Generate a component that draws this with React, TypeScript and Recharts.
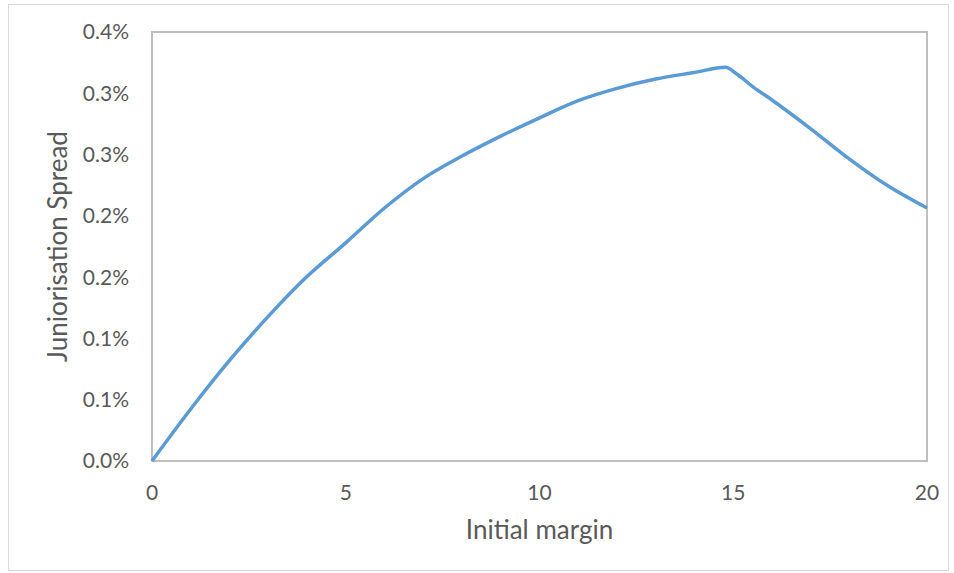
import { LineChart, Line, XAxis, YAxis, ReferenceArea } from "recharts";

// Initial margin (x) and junioring spread in % (y)
const margins = [0, 1, 2, 3, 4, 5, 6, 7, 8, 9, 10, 11, 12, 13, 14, 14.8, 15.1, 15.5, 16, 17, 18, 19, 20];
const spreads = [
  0, 0.0424, 0.082, 0.118, 0.1505, 0.178, 0.2064, 0.2304, 0.2488, 0.265, 0.28, 0.294, 0.304,
  0.3116, 0.317, 0.3212, 0.3155, 0.3055, 0.2945, 0.271, 0.2463, 0.2243, 0.2064,
];

const xTicks = [0, 5, 10, 15, 20];
const yTicks = [0, 0.05, 0.1, 0.15, 0.2, 0.25, 0.3, 0.35];
const yTickLabels = ["0.0%", "0.1%", "0.1%", "0.2%", "0.2%", "0.3%", "0.3%", "0.4%"];

const data = margins.map((m, i) => ({ margin: m, spread: spreads[i] }));

const FONT = "Lato, 'Noto Sans', sans-serif";
const TEXT = "#595959";

export default function App() {
  return (
    <div
      style={{
        position: "absolute",
        left: 0,
        top: 0,
        width: 954,
        height: 573,
        background: "#fff",
        fontFamily: FONT,
      }}
    >
      <div
        style={{
          position: "absolute",
          left: 8,
          top: 4,
          width: 939,
          height: 565,
          border: "1px solid #d9d9d9",
        }}
      />
      <LineChart
        width={954}
        height={573}
        data={data}
        margin={{ top: 32, right: 27, left: 0, bottom: 0 }}
        style={{ position: "absolute", left: 0, top: 0 }}
      >
        <XAxis
          dataKey="margin"
          type="number"
          domain={[0, 20]}
          ticks={xTicks}
          height={112}
          axisLine={false}
          tickLine={false}
          tickSize={0}
          tickMargin={24}
          tick={{ fontSize: 21, fill: TEXT, fontFamily: FONT }}
          label={{
            content: ({ viewBox }: any) => (
              <text
                x={viewBox.x + viewBox.width / 2}
                y={529}
                textAnchor="middle"
                dominantBaseline="central"
                fontSize={26}
                fill={TEXT}
                fontFamily={FONT}
              >
                Initial margin
              </text>
            ),
          }}
        />
        <YAxis
          type="number"
          domain={[0, 0.35]}
          ticks={yTicks}
          width={152}
          axisLine={false}
          tickLine={false}
          tickSize={0}
          tickMargin={23}
          interval={0}
          tickFormatter={(v: number) => yTickLabels[yTicks.indexOf(v)] ?? ""}
          tick={{ fontSize: 21, fill: TEXT, fontFamily: FONT }}
          label={{
            content: ({ viewBox }: any) => {
              const cy = viewBox.y + viewBox.height / 2;
              return (
                <text
                  x={57}
                  y={cy}
                  transform={`rotate(-90 57 ${cy})`}
                  textAnchor="middle"
                  dominantBaseline="central"
                  fontSize={26}
                  fill={TEXT}
                  fontFamily={FONT}
                >
                  Juniorisation Spread
                </text>
              );
            },
          }}
        />
        <ReferenceArea
          x1={0}
          x2={20}
          y1={0}
          y2={0.35}
          fill="none"
          stroke="#bfbfbf"
          strokeWidth={2}
          ifOverflow="visible"
        />
        <Line
          type="monotone"
          dataKey="spread"
          stroke="#5b9bd5"
          strokeWidth={3.5}
          dot={false}
          isAnimationActive={false}
        />
      </LineChart>
    </div>
  );
}
